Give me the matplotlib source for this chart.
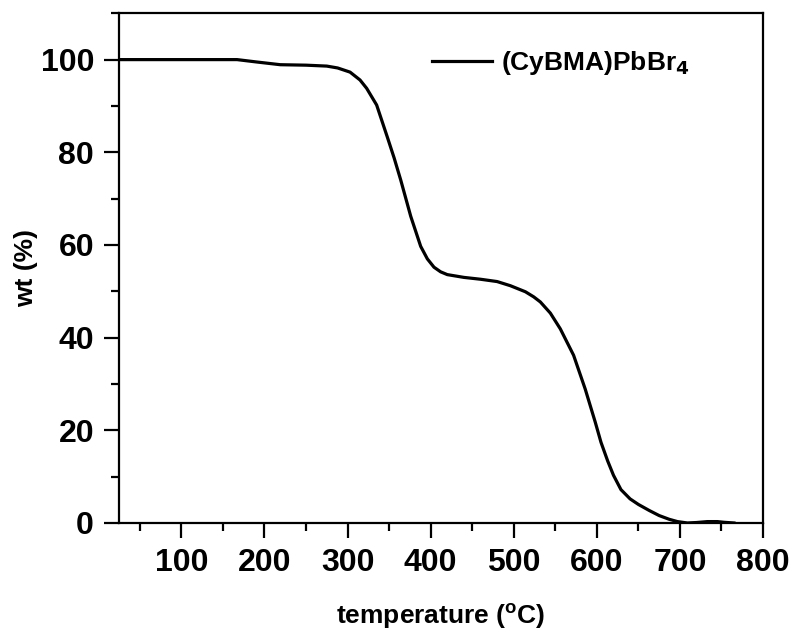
import matplotlib
matplotlib.use("Agg")
import matplotlib.pyplot as plt
from matplotlib.ticker import MultipleLocator

plt.rcParams['font.family'] = ['Liberation Sans', 'DejaVu Sans']
plt.rcParams['font.weight'] = 'bold'
plt.rcParams['mathtext.default'] = 'bf'

# TGA curve
temperature = [25, 100, 167, 190, 219, 250, 275, 288, 303, 315, 323, 335, 348, 356,
               364, 376, 388, 396, 404, 412, 420, 440, 460, 480, 496, 514, 524, 532,
               544, 556, 572, 586, 598, 605, 613, 620, 629, 640, 650, 663, 675, 687,
               697, 709, 720, 733, 745, 753, 765]
weight = [100, 100, 100, 99.5, 98.9, 98.8, 98.6, 98.2, 97.3, 95.6, 93.8, 90.2, 83.2, 78.8,
          74.0, 66.2, 59.7, 57, 55.2, 54.2, 53.6, 53.0, 52.6, 52.1, 51.2, 49.9, 48.8, 47.7,
          45.3, 41.9, 36.2, 28.9, 21.8, 17.4, 13.4, 10.3, 7.2, 5.2, 4, 2.7, 1.6, 0.8,
          0.3, 0, 0.1, 0.3, 0.3, 0.15, 0]
label = "(CyBMA)PbBr$_4$"

fig = plt.figure(figsize=(7.99, 6.32), dpi=100)
ax = fig.add_axes([0.149, 0.1725, 0.806, 0.8065])

ax.plot(temperature, weight, color='black', lw=2.3, label=label)

ax.set_xlim(25, 800)
ax.set_ylim(0, 110)
ax.xaxis.set_major_locator(MultipleLocator(100))
ax.xaxis.set_minor_locator(MultipleLocator(50))
ax.yaxis.set_major_locator(MultipleLocator(20))
ax.yaxis.set_minor_locator(MultipleLocator(10))
ax.tick_params(which='major', direction='out', length=11, width=1.6,
               labelsize=23, pad=7)
ax.tick_params(which='minor', direction='out', length=6, width=1.6)
ax.tick_params(top=False, right=False)
for lbl in ax.get_xticklabels() + ax.get_yticklabels():
    lbl.set_fontweight('bold')
for s in ax.spines.values():
    s.set_linewidth(1.6)

ax.set_xlabel("temperature ($^{\\mathregular{o}}$C)", fontsize=19, fontweight='bold', labelpad=17)
ax.set_ylabel("wt (%)", fontsize=19, fontweight='bold', labelpad=2)

leg = ax.legend(loc='center left', bbox_to_anchor=(0.466, 0.902), frameon=False,
                handlelength=2.25, handletextpad=0.35, borderpad=0,
                prop={'size': 19, 'weight': 'bold'})

plt.savefig('out.png', dpi=100)
